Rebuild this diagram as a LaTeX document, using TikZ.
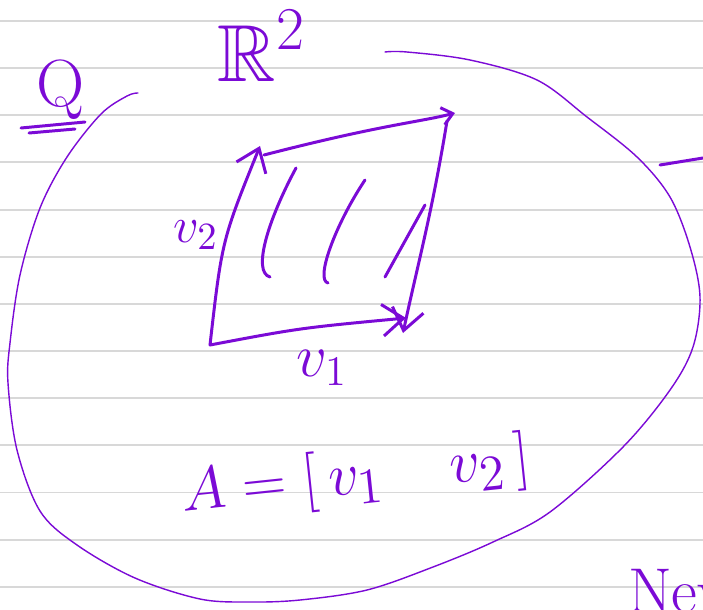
\documentclass[tikz,border=0pt]{standalone}
\usepackage{amsmath,amssymb}
\usepackage{tikz}
\usetikzlibrary{positioning,calc,arrows.meta}
\definecolor{InkViolet}{RGB}{123,10,214}
\definecolor{RuleGray}{RGB}{216,216,216}

\begin{document}
\begin{tikzpicture}[x=0.01cm, y=-0.01cm,
  pen/.style={draw=InkViolet, line width=0.85pt, line cap=round, line join=round},
  fine/.style={draw=InkViolet, line width=0.4pt, line cap=round},
  rule/.style={draw=RuleGray, line width=0.55pt},
  vec/.style={pen, -{Straight Barb[length=6pt, width=9pt]}},
  ink/.style={text=InkViolet, inner sep=0pt, outer sep=0pt}
]
  % notebook page
  \fill[white] (0,0) rectangle (703,609);
  \useasboundingbox (0,0) rectangle (703,609);
  \foreach \k in {0,...,12}
    \draw[rule] (0,{21+47.15*\k}) -- (703,{21+47.15*\k});

  % the plane as a big loop
  \draw[fine] plot[smooth, tension=0.55] coordinates {
    (385,52) (407,52) (470,60) (537,80) (587,117) (637,157) (670,197)
    (690,247) (700,297) (693,347) (670,390) (623,447) (550,512) (493,542)
    (433,567) (367,590) (300,600) (250,602) (200,599) (135,578) (77,545)
    (40,511) (17,450) (8,383) (10,343) (20,275) (40,208) (67,157) (101,114)
    (127,96) (138,93)};
  \draw[pen] (660,165) -- (703,158);

  % labels
  \node[ink, font=\fontsize{19}{22}\selectfont] (Q) at (61,90) {Q};
  \draw[pen] (21,128) -- (85,122);
  \draw[pen] (29,133) -- (75,129);
  \node[ink, font=\fontsize{23}{26}\selectfont] (plane) at (262,46) {$\mathbb{R}^{\scriptstyle 2}$};

  % parallelogram spanned by v1, v2
  \coordinate (org) at (210,345);
  \coordinate (v1tip) at (406,318);
  \coordinate (v2tip) at (260,146);
  \coordinate (far) at (455,113);
  \draw[vec] (org) .. controls (300,328) .. (v1tip);
  \draw[vec] (org) .. controls (222,240) .. (v2tip);
  \draw[pen, -{Straight Barb[length=3pt, width=5pt]}] ([shift={(4,9)}]v2tip) .. controls (380,125) and (420,122) .. (far);
  \draw[vec] ([shift={(-8,8)}]far) .. controls (432,213) and (418,263) .. ([shift={(-3,15)}]v1tip);

  % shading strokes
  \draw[pen] (296,168) .. controls (268,220) and (252,272) .. (270,277);
  \draw[pen] (365,180) .. controls (335,225) and (315,280) .. (328,283);
  \draw[pen] (425,205) -- (385,277);

  \node[ink, font=\fontsize{18}{20}\selectfont] (v1lbl) at (322,368) {$v_1$};
  \node[ink, font=\fontsize{15}{17}\selectfont] (v2lbl) at (196,235) {$v_2$};

  % the matrix
  \node[ink, rotate=6, font=\fontsize{19}{22}\selectfont] (matA) at (356,478) {$A = [\,v_1\quad v_2\,]$};

  \node[ink, anchor=base west, font=\fontsize{18}{20}\selectfont] (next) at (628,612) {Nev};
\end{tikzpicture}
\end{document}
